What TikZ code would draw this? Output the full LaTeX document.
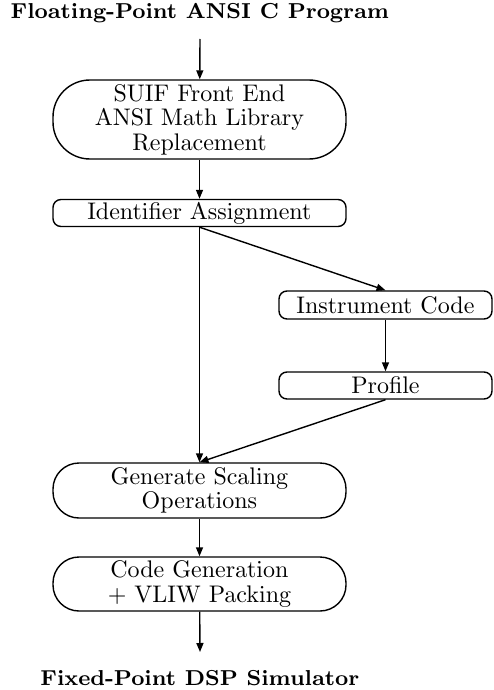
\documentclass[tikz,border=0pt]{standalone}
\usetikzlibrary{arrows.meta}
% text fonts: roman for the stages, bold extended for the end labels
\font\stagerm=cmr10 at 24pt
\font\endbf=cmbx8 at 21.6pt
\begin{document}
\begin{tikzpicture}[x=1pt,y=-1pt,
  every node/.style={font=\fontsize{24}{24.5}\selectfont\stagerm},
  stage/.style={draw,line width=1.4pt,minimum width=293pt,inner sep=0pt,align=center},
  side/.style={draw,line width=1.4pt,minimum width=213pt,inner sep=0pt,align=center},
  flow/.style={line width=1.4pt,-{Triangle[length=9pt,width=7pt]}},
  endlabel/.style={font=\endbf}]
\useasboundingbox (0,0) rectangle (494,690);

% input and output labels
\node[endlabel] (src) at (200,13) {Floating-Point ANSI C Program};
\node[endlabel] (dst) at (200,678) {Fixed-Point DSP Simulator};
\coordinate (in) at (200,39);
\coordinate (out) at (200,652);

% main pipeline
\node[stage,minimum height=79pt,rounded corners=37pt] (suif) at (199.5,119.5)
  {SUIF Front End\\ANSI Math Library\\Replacement};
\node[stage,minimum height=27pt,rounded corners=8pt] (ident) at (199.5,213)
  {Identifier Assignment};
\node[stage,minimum height=55pt,rounded corners=26pt] (scale) at (199.5,490.5)
  {Generate Scaling\\Operations};
\node[stage,minimum height=54pt,rounded corners=26pt] (codegen) at (199.5,584)
  {Code Generation\\+ VLIW Packing};

% profiling branch
\node[side,minimum height=28pt,rounded corners=8pt] (instr) at (385.5,305)
  {Instrument Code};
\node[side,minimum height=27pt,rounded corners=8pt] (prof) at (385.5,385.5)
  {Profile};

% connectors
\draw[flow] (in) -- (suif);
\draw[flow] (suif) -- (ident);
\draw[flow] (ident.south) -- (scale.north);
\draw[flow] (ident.south) -- (instr.north);
\draw[flow] (instr) -- (prof);
\draw[flow] (prof.south) -- (scale.north);
\draw[flow] (scale) -- (codegen);
\draw[flow] (codegen) -- (out);
\end{tikzpicture}
\end{document}
